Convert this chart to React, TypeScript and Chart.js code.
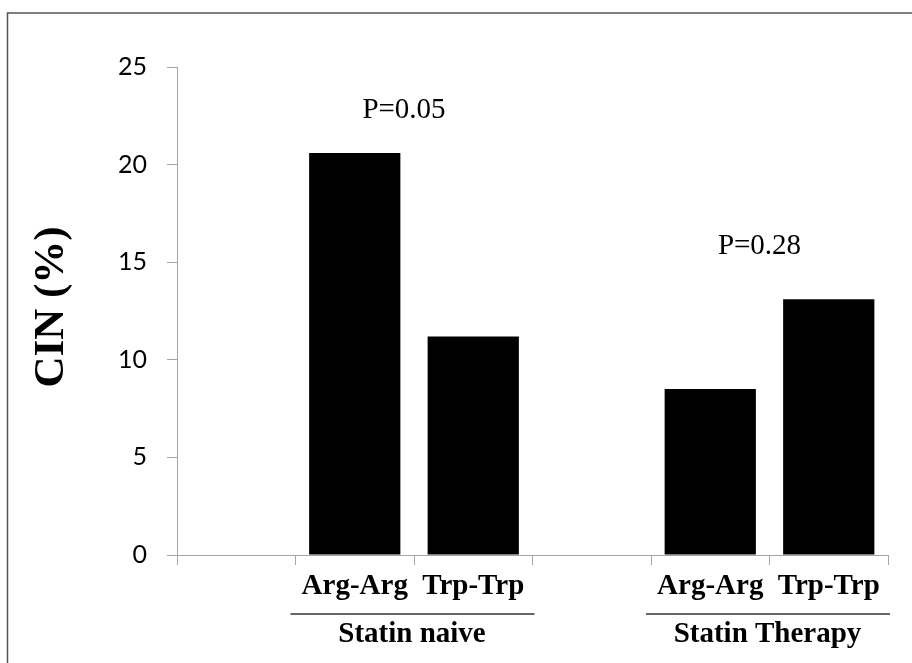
import React, { useEffect, useRef } from "react";
import { Chart, registerables } from "chart.js";

Chart.register(...registerables);

const categories = ["", "Arg-Arg", "Trp-Trp", "", "Arg-Arg", "Trp-Trp"];
const cinValues: (number | null)[] = [null, 20.6, 11.2, null, 8.5, 13.1];
const groupLabels = ["Statin naive", "Statin Therapy"];
const groupStart = [1, 4];
const groupEnd = [2, 5];
const pLabels = ["P=0.05", "P=0.28"];
const pLabelY = [22.4, 15.4];
const yMin = 0;
const yMax = 25;
const yStep = 5;
const yTitle = "CIN (%)";

const SERIF = "'Liberation Serif', 'Times New Roman', serif";
const AXIS_GREY = "#a6a6a6";

const overlayPlugin = {
  id: "overlay",
  beforeDraw(chart: any) {
    const ctx = chart.ctx;
    ctx.save();
    ctx.fillStyle = "#ffffff";
    ctx.fillRect(0, 0, chart.width, chart.height);
    ctx.strokeStyle = "#555555";
    ctx.lineWidth = 1.5;
    ctx.strokeRect(7.5, 13, chart.width + 100, chart.height + 100);
    ctx.restore();
  },
  afterDraw(chart: any) {
    const ctx = chart.ctx;
    const xs = chart.scales.x;
    const ys = chart.scales.y;
    const slot = xs.getPixelForValue(1) - xs.getPixelForValue(0);
    ctx.save();
    // y-axis title
    ctx.fillStyle = "#000";
    ctx.font = `bold 43px ${SERIF}`;
    ctx.textAlign = "center";
    ctx.textBaseline = "alphabetic";
    ctx.save();
    ctx.translate(63, (ys.top + ys.bottom) / 2 - 4);
    ctx.rotate(-Math.PI / 2);
    ctx.fillText(yTitle, 0, 0);
    ctx.restore();

    for (let i = 0; i < groupLabels.length; i++) {
      const x1 = xs.getPixelForValue(groupStart[i]) - slot / 2;
      const x2 = xs.getPixelForValue(groupEnd[i]) + slot / 2;
      const mid = (x1 + x2) / 2;
      // group line
      ctx.strokeStyle = "#333";
      ctx.lineWidth = 1.5;
      ctx.beginPath();
      ctx.moveTo(x1 - 5, xs.top + 59);
      ctx.lineTo(x2 + 2, xs.top + 59);
      ctx.stroke();
      // group label
      ctx.font = `bold 29px ${SERIF}`;
      ctx.textAlign = "center";
      ctx.fillText(groupLabels[i], mid - 2, xs.top + 87);
      // p value
      ctx.font = `29px ${SERIF}`;
      ctx.fillText(pLabels[i], mid - 10, ys.getPixelForValue(pLabelY[i]));
    }
    ctx.restore();
  },
};

export default function App() {
  const ref = useRef<HTMLCanvasElement | null>(null);

  useEffect(() => {
    document.body.style.margin = "0";
    if (!ref.current) return;
    const chart = new Chart(ref.current, {
      type: "bar",
      data: {
        labels: categories,
        datasets: [
          {
            data: cinValues,
            backgroundColor: "#000000",
            borderColor: "#222222",
            borderWidth: 0,
            barPercentage: 0.77,
            categoryPercentage: 1,
          },
        ],
      },
      options: {
        animation: false,
        responsive: false,
        maintainAspectRatio: false,
        devicePixelRatio: 1,
        layout: { padding: { left: 0, top: 67, right: 24, bottom: 0 } },
        plugins: {
          legend: { display: false },
          tooltip: { enabled: false },
          title: { display: false },
        },
        scales: {
          x: {
            offset: true,
            grid: {
              offset: true,
              drawOnChartArea: false,
              drawTicks: true,
              tickLength: 10,
              color: AXIS_GREY,
              lineWidth: 1,
            },
            border: { display: true, color: AXIS_GREY, width: 1 },
            ticks: {
              color: "#000",
              padding: 4,
              font: { family: SERIF, size: 29, weight: "bold" },
              maxRotation: 0,
              autoSkip: false,
            },
            afterFit: (scale: any) => {
              scale.height = 108;
            },
          },
          y: {
            min: yMin,
            max: yMax,
            grid: {
              drawOnChartArea: false,
              drawTicks: true,
              tickLength: 10,
              color: AXIS_GREY,
              lineWidth: 1,
            },
            border: { display: true, color: AXIS_GREY, width: 1 },
            ticks: {
              stepSize: yStep,
              color: "#000",
              padding: 20,
              font: { family: "Lato, 'Open Sans', sans-serif", size: 25 },
            },
            afterFit: (scale: any) => {
              scale.width = 177;
            },
          },
        },
      },
      plugins: [overlayPlugin],
    });
    return () => chart.destroy();
  }, []);

  return (
    <div style={{ width: 912, height: 663, position: "relative" }}>
      <canvas ref={ref} width={912} height={663} style={{ display: "block" }} />
    </div>
  );
}
